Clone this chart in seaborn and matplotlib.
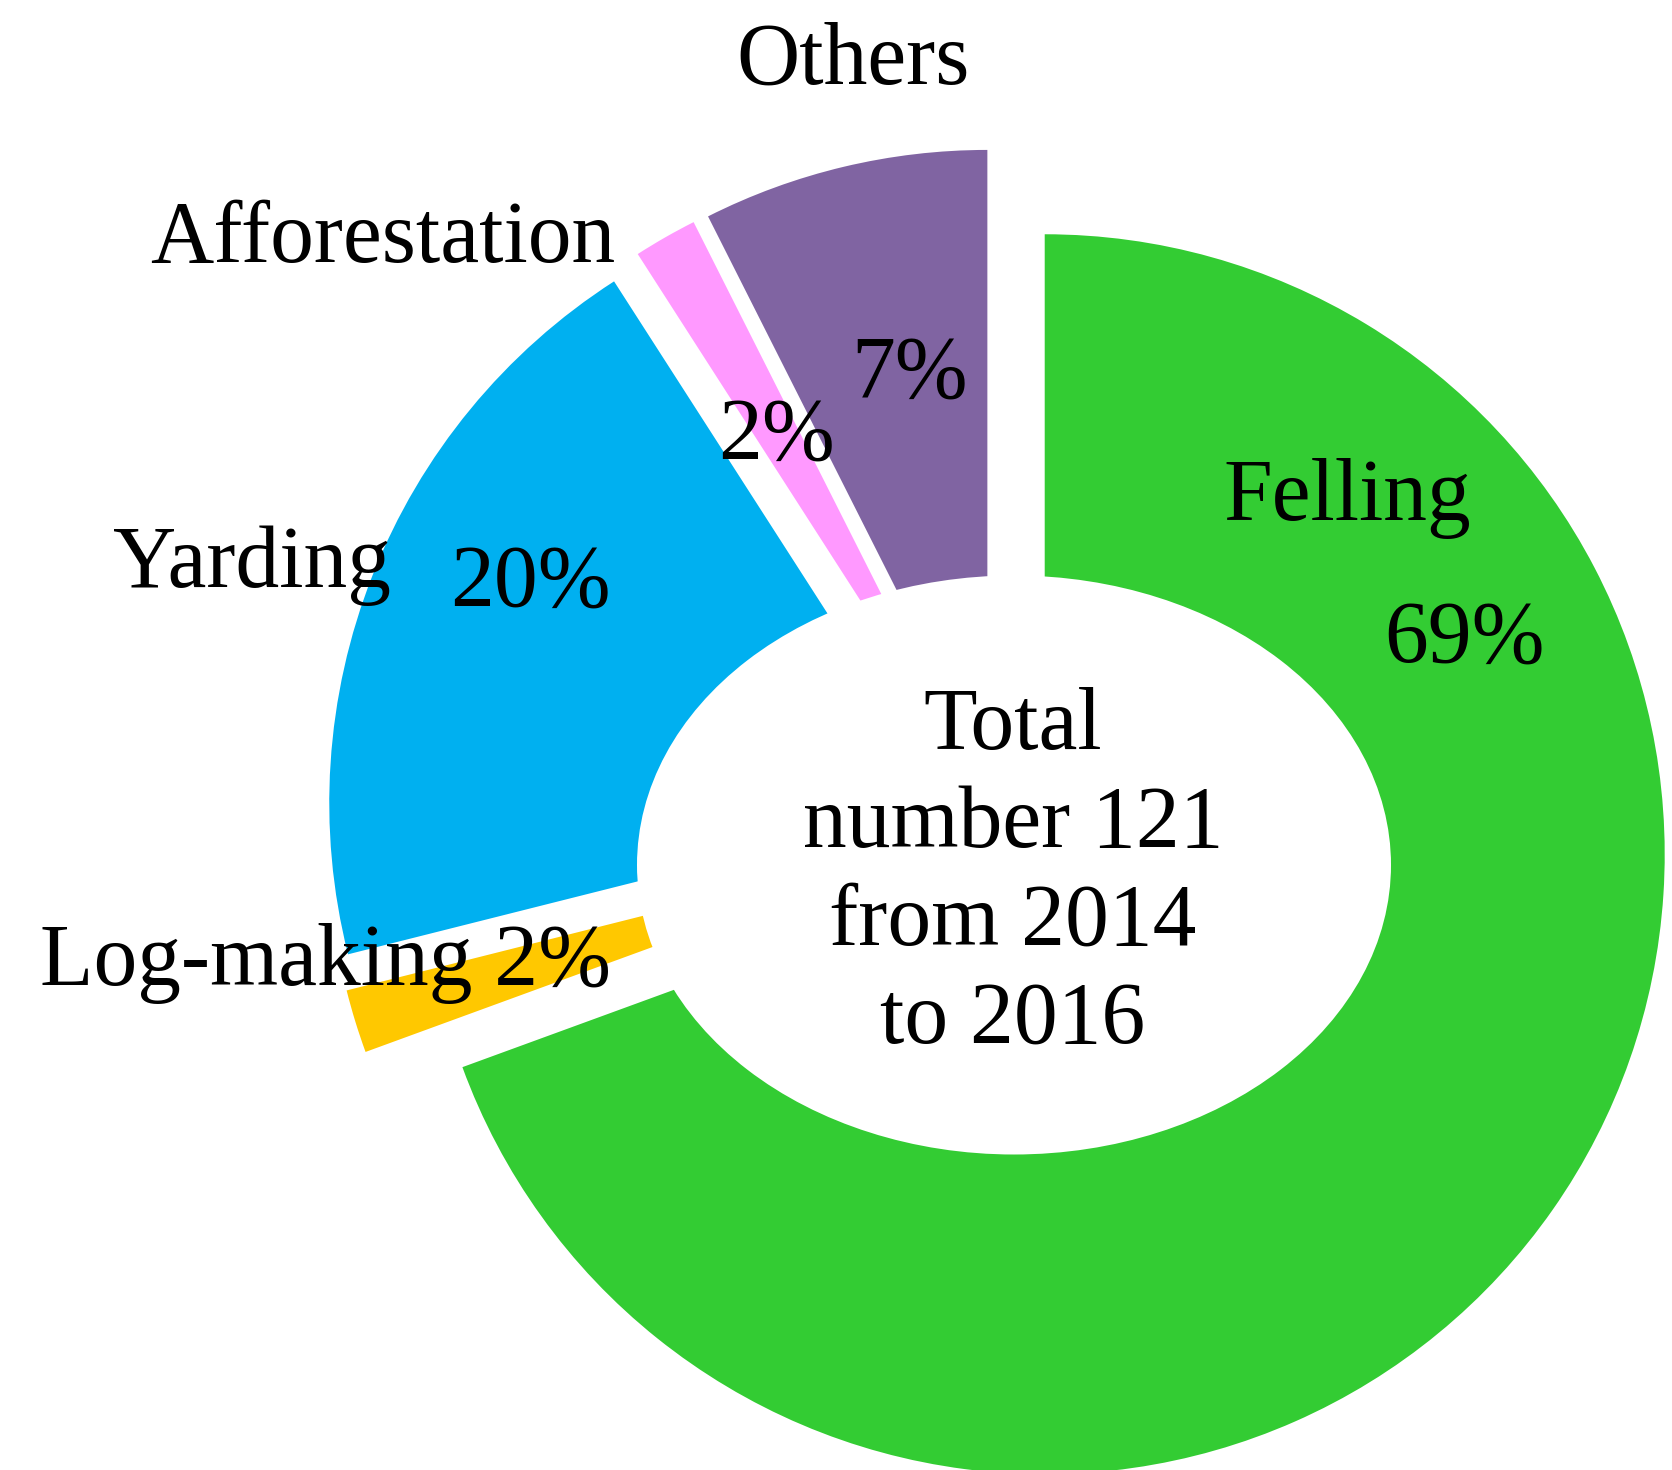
import matplotlib
matplotlib.use('Agg')
import matplotlib.pyplot as plt
import seaborn as sns
from matplotlib.patches import Ellipse

# accident counts 2014-2016 by work type
categories = ['Felling', 'Log-making', 'Yarding', 'Afforestation', 'Others']
counts = [84, 2, 24, 2, 9]
total = sum(counts)
pct_labels = [f"{round(100 * c / total)}%" for c in counts]

colors = sns.color_palette(['#33CC33', '#FFC800', '#00B0F0', '#FF99FF', '#8064A2'])

sns.set_theme(style='white')
plt.rcParams['font.family'] = ['Liberation Serif', 'DejaVu Serif']
plt.rcParams['text.color'] = 'black'

W, H = 1672, 1470
R = 620
fig = plt.figure(figsize=(W / 100, H / 100), dpi=100)
ax = fig.add_axes([0, 0, 1, 1])

# explode is in data units here, so scale it by the radius
ax.pie(counts, colors=colors, startangle=90, counterclock=False,
       explode=[0.088 * R] * len(counts), center=(1000, 647), radius=R,
       wedgeprops=dict(linewidth=0))

# white ellipse with the total in the middle
ax.add_patch(Ellipse((1014, 605), 754, 579, facecolor='white', edgecolor='none', zorder=3))
ax.text(1013, 596, f"Total\nnumber {total}\nfrom 2014\nto 2016", ha='center', va='center',
        fontsize=63, linespacing=1.27, zorder=4)

# category names and percentages
fs = 63
ax.text(853, 1408, 'Others', ha='center', va='center', fontsize=fs, zorder=4)
ax.text(383, 1230, 'Afforestation', ha='center', va='center', fontsize=fs, zorder=4)
ax.text(252, 905, 'Yarding', ha='center', va='center', fontsize=fs, zorder=4)
ax.text(325, 507, 'Log-making ' + pct_labels[1], ha='center', va='center', fontsize=fs, zorder=4)
ax.text(1347, 972, 'Felling', ha='center', va='center', fontsize=fs, zorder=4)
ax.text(1464, 830, pct_labels[0], ha='center', va='center', fontsize=fs, zorder=4)
ax.text(530, 886, pct_labels[2], ha='center', va='center', fontsize=fs, zorder=4)
ax.text(776, 1033, pct_labels[3], ha='center', va='center', fontsize=fs, zorder=4)
ax.text(910, 1095, pct_labels[4], ha='center', va='center', fontsize=fs, zorder=4)

ax.set_xlim(0, W)
ax.set_ylim(0, H)
ax.set_aspect('auto')
ax.axis('off')

fig.savefig('out.png', dpi=100)
